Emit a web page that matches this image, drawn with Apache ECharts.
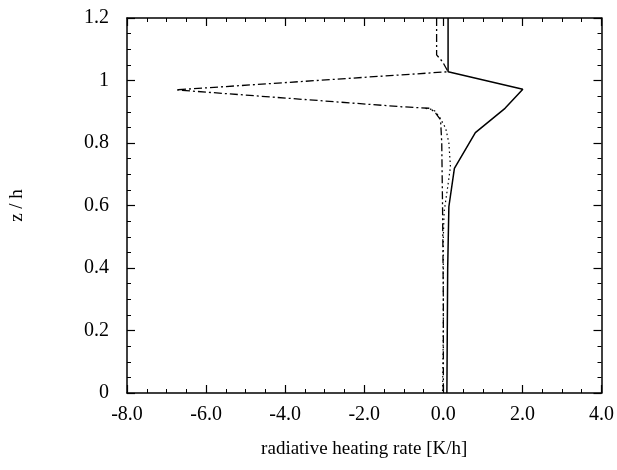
<!DOCTYPE html>
<html>
<head>
<meta charset="utf-8">
<script src="https://cdn.jsdelivr.net/npm/echarts@6/dist/echarts.min.js"></script>
<style>
html,body{margin:0;padding:0;background:#fff;}
#chart{width:617px;height:470px;}
</style>
</head>
<body>
<div id="chart"></div>
<script>
// Solid line
var solidX = [0.12, 0.12, 2.01, 1.56, 0.81, 0.28, 0.14, 0.11, 0.09];
var solidZ = [1.2, 1.028, 0.972, 0.911, 0.833, 0.719, 0.596, 0.4, 0];
// Dash-dot line
var dashX = [-0.17, -0.17, -0.02, 0.12, -6.76, -1.06, -0.33, -0.19, -0.07, -0.04, -0.02, 0.0, 0.0];
var dashZ = [1.2, 1.082, 1.06, 1.028, 0.970, 0.916, 0.911, 0.895, 0.874, 0.8, 0.6, 0.3, 0];
// Dotted line
var dotX = [-0.45, -0.24, -0.1, 0.06, 0.14, 0.18, 0.1, 0.02, 0.0, 0.0, -0.02];
var dotZ = [0.911, 0.906, 0.884, 0.847, 0.8, 0.724, 0.65, 0.58, 0.5, 0.2, 0];

var xTicks = {min: -8, max: 4, interval: 2};
var zTicks = {min: 0, max: 1.2, interval: 0.2};

function pairs(xs, zs){ return xs.map(function(x,i){ return [x, zs[i]]; }); }

var FONT = '"Liberation Serif", "DejaVu Serif", serif';
var axisLine = {show: true, onZero: false, lineStyle: {color: '#000', width: 1.5}};
var tick = {show: true, inside: true, length: 8, lineStyle: {color: '#000', width: 1.2}};
var minor = {show: true, splitNumber: 4, length: 4, lineStyle: {color: '#000', width: 1}};

var chart = echarts.init(document.getElementById('chart'), null, {renderer: 'canvas'});
chart.setOption({
  animation: false,
  backgroundColor: '#fff',
  grid: {left: 122, right: 14, top: 18, bottom: 77, containLabel: false},
  xAxis: [{
    type: 'value', position: 'bottom', min: xTicks.min, max: xTicks.max, interval: xTicks.interval,
    name: 'radiative heating rate [K/h]', nameLocation: 'middle', nameGap: 47,
    nameTextStyle: {fontFamily: FONT, fontSize: 19, color: '#000'},
    axisLine: axisLine, axisTick: tick, minorTick: minor, splitLine: {show: false},
    axisLabel: {fontFamily: FONT, fontSize: 20, color: '#000', margin: 12,
      formatter: function(v){ return v.toFixed(1); }}
  }, {
    type: 'value', position: 'top', min: xTicks.min, max: xTicks.max, interval: xTicks.interval,
    axisLine: axisLine, axisTick: tick, minorTick: minor, splitLine: {show: false},
    axisLabel: {show: false}
  }],
  yAxis: [{
    type: 'value', position: 'left', min: zTicks.min, max: zTicks.max, interval: zTicks.interval,
    name: 'z / h', nameLocation: 'middle', nameGap: 100, nameRotate: 90,
    nameTextStyle: {fontFamily: FONT, fontSize: 19, color: '#000'},
    axisLine: axisLine, axisTick: tick, minorTick: minor, splitLine: {show: false},
    axisLabel: {fontFamily: FONT, fontSize: 20, color: '#000', margin: 18,
      formatter: function(v){ return String(+v.toFixed(1)); }}
  }, {
    type: 'value', position: 'right', min: zTicks.min, max: zTicks.max, interval: zTicks.interval,
    axisLine: axisLine, axisTick: tick, minorTick: minor, splitLine: {show: false},
    axisLabel: {show: false}
  }],
  series: [{
    type: 'line', data: pairs(solidX, solidZ), showSymbol: false, symbol: 'none',
    lineStyle: {color: '#000', width: 1.5, type: 'solid'}
  }, {
    type: 'line', data: pairs(dashX, dashZ), showSymbol: false, symbol: 'none',
    lineStyle: {color: '#000', width: 1.3, type: [8, 3, 2, 3]}
  }, {
    type: 'line', data: pairs(dotX, dotZ), showSymbol: false, symbol: 'none',
    lineStyle: {color: '#000', width: 1.2, type: [1.5, 3]}
  }]
});
</script>
</body>
</html>
